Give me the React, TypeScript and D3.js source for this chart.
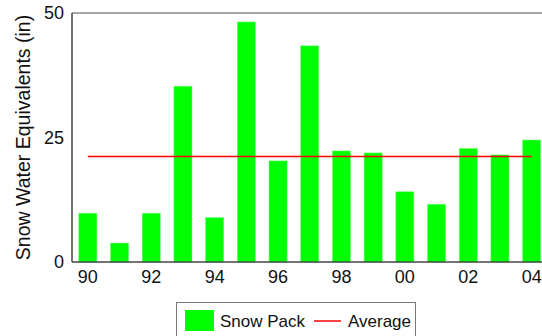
import React from "react";
import * as d3 from "d3";

const years = ["90","91","92","93","94","95","96","97","98","99","00","01","02","03","04"];
const snowPack = [9.8, 3.8, 9.8, 35.3, 8.9, 48.2, 20.3, 43.4, 22.3, 21.9, 14.1, 11.6, 22.8, 21.5, 24.5];
const averageValue = [21.2];
const yTicks = [0, 25, 50];
const xTickLabels = ["90","92","94","96","98","00","02","04"];
const legendLabels = ["Snow Pack", "Average"];
const yTitle = "Snow Water Equivalents (in)";

const W = 542, H = 336;
const left = 72, top = 13, bottom = 262;
const font = "'Liberation Sans', Arial, Helvetica, sans-serif";

export default function App() {
  const x = d3.scaleBand<string>().domain(years).range([left, left + 15 * 31.7]).paddingInner(0.43).paddingOuter(0.215);
  const y = d3.scaleLinear().domain([0, 50]).range([bottom, top]);
  const bw = x.bandwidth();
  const avg = averageValue[0];
  const avgLine = d3.line<string>().x(d => (x(d) as number) + bw / 2).y(() => y(avg));
  return (
    <svg width={W} height={H} style={{ position: "absolute", left: 0, top: 0 }} fontFamily={font}>
      <rect x={0} y={0} width={W} height={H} fill="#fff" />
      {/* bars */}
      {years.map((yr, i) => (
        <rect key={yr} x={x(yr)} y={y(snowPack[i])} width={bw} height={y(0) - y(snowPack[i])} fill="#00ff00" stroke="#66ff66" strokeWidth={0.5} />
      ))}
      {/* frame */}
      <line x1={left} x2={W} y1={top} y2={top} stroke="#888" strokeWidth={1.5} />
      <line x1={left} x2={W} y1={bottom} y2={bottom} stroke="#444" strokeWidth={1.5} />
      <line x1={left} x2={left} y1={top} y2={bottom} stroke="#444" strokeWidth={1.5} />
      {/* average */}
      <path d={avgLine([years[0], years[years.length - 1]]) || ""} stroke="#ff0000" strokeWidth={1.5} fill="none" />
      {/* y ticks */}
      {yTicks.map(t => (
        <text key={t} x={64} y={y(t)} dy="0.35em" textAnchor="end" fontSize={18} fill="#111">{t}</text>
      ))}
      {/* x ticks */}
      {xTickLabels.map(l => (
        <text key={l} x={(x(l) as number) + bw / 2} y={283} textAnchor="middle" fontSize={18} fill="#111">{l}</text>
      ))}
      {/* y title */}
      <text transform={`translate(29.5,${(top + bottom) / 2}) rotate(-90)`} textAnchor="middle" fontSize={19.5} fill="#111">{yTitle}</text>
      {/* legend */}
      <rect x={176.5} y={302.5} width={239} height={50} fill="#fff" stroke="#777" strokeWidth={1} />
      <rect x={185} y={310} width={29} height={21} fill="#00ff00" />
      <text x={220} y={327} fontSize={17} fill="#111">{legendLabels[0]}</text>
      <line x1={314} x2={341} y1={321} y2={321} stroke="#ff0000" strokeWidth={1.5} />
      <text x={348} y={327} fontSize={17} fill="#111">{legendLabels[1]}</text>
    </svg>
  );
}
